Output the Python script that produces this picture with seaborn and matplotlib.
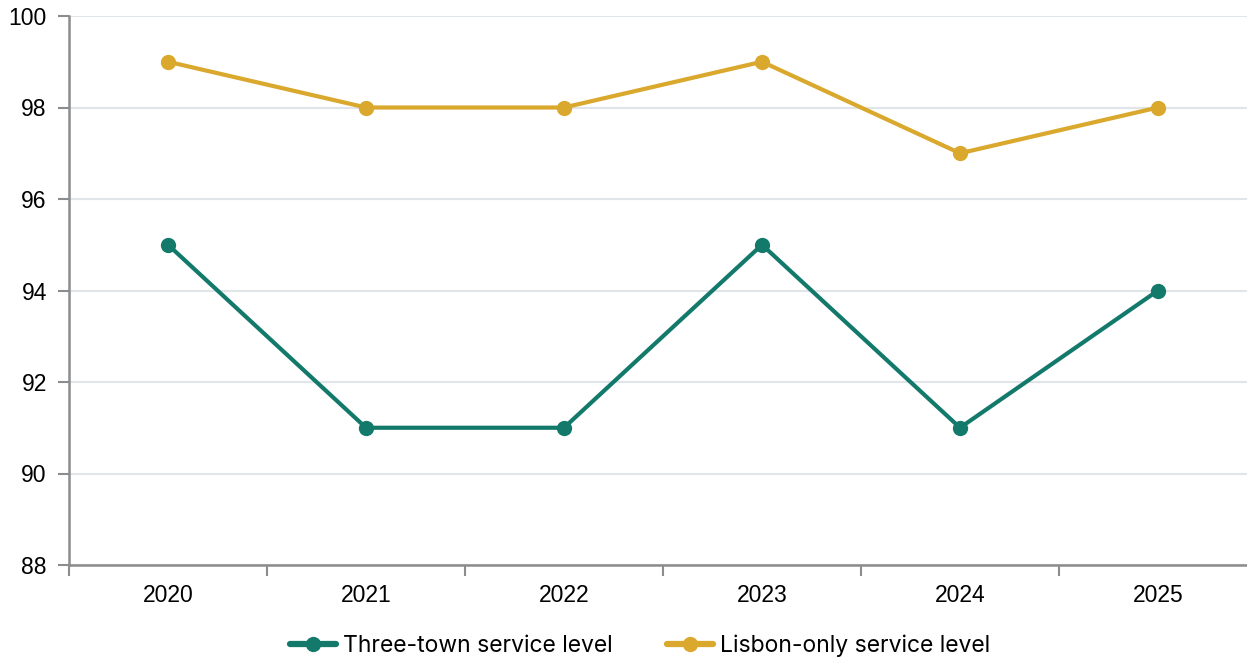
import matplotlib
matplotlib.use("Agg")
import matplotlib.pyplot as plt
from matplotlib.lines import Line2D
import seaborn as sns
import pandas as pd

years = [2020, 2021, 2022, 2023, 2024, 2025]
three_town = [95, 91, 91, 95, 91, 94]
lisbon_only = [99, 98, 98, 99, 97, 98]
series_names = ["Three-town service level", "Lisbon-only service level"]
colors = ["#137a6b", "#d9a82c"]
y_ticks = [88, 90, 92, 94, 96, 98, 100]

df = pd.DataFrame({
    "year": years * 2,
    "value": three_town + lisbon_only,
    "series": [series_names[0]] * len(years) + [series_names[1]] * len(years),
})

sns.set_theme(style="white")
plt.rcParams["font.family"] = ["Liberation Sans", "DejaVu Sans"]
plt.rcParams["text.color"] = "black"
plt.rcParams["xtick.color"] = "black"
plt.rcParams["ytick.color"] = "black"

fig = plt.figure(figsize=(12.47, 6.61), dpi=100)
ax = fig.add_axes([69 / 1247, 1 - 565 / 661, (1257 - 69) / 1247, (565 - 16) / 661])

sns.lineplot(data=df, x="year", y="value", hue="series", hue_order=series_names,
             palette=colors, marker="o", markersize=11, markeredgewidth=0,
             linewidth=3.0, legend=False, ax=ax, zorder=3)

ax.set_xlim(2019.5, 2025.5)
ax.set_ylim(88, 100)
ax.set_yticks(y_ticks)
ax.set_yticklabels([str(v) for v in y_ticks], fontsize=16.5, color="black",
                   family=["Liberation Sans", "DejaVu Sans"])
ax.set_xticks(years)
ax.set_xticklabels([str(y) for y in years], fontsize=16.5, color="black",
                   family=["Liberation Sans", "DejaVu Sans"])
ax.set_xticks([y - 0.5 for y in years] + [2025.5], minor=True)
ax.tick_params(axis="x", which="major", bottom=False, length=0, pad=14)
ax.tick_params(axis="x", which="minor", bottom=True, length=8, width=1.5,
               color="#8c8c8c", direction="out")
ax.tick_params(axis="y", which="major", left=True, length=8, width=1.5,
               color="#8c8c8c", direction="out", pad=8)
ax.set_xlabel("")
ax.set_ylabel("")

ax.grid(axis="y", color="#dfe5e8", linewidth=1.5, zorder=0)
ax.grid(axis="x", visible=False)
for s in ["top", "right"]:
    ax.spines[s].set_visible(False)
for s in ["left", "bottom"]:
    ax.spines[s].set_color("#8c8c8c")
    ax.spines[s].set_linewidth(1.8)

handles = [Line2D([0], [0], color=c, lw=4.5, marker="o", markersize=11, markeredgewidth=0)
           for c in colors]
fig.legend(handles, series_names, loc="center", bbox_to_anchor=(640 / 1247, 1 - 646 / 661),
           ncol=2, frameon=False, handlelength=2.0, columnspacing=2.4,
           handletextpad=0.3, prop={"family": ["Inter", "DejaVu Sans"], "size": 16.5})

fig.savefig("out.png", dpi=100)
